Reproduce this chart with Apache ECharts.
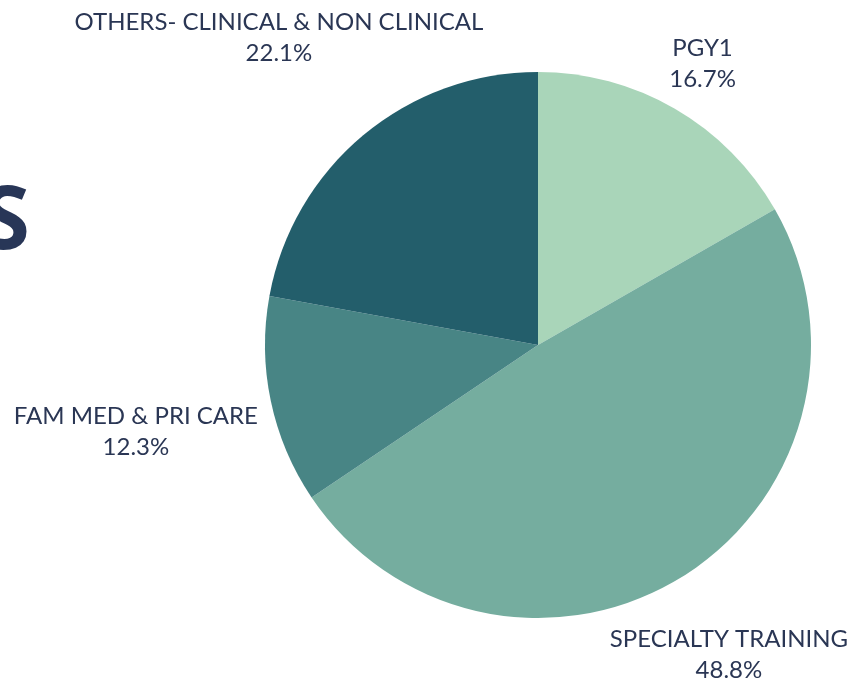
<!DOCTYPE html>
<html>
<head>
<meta charset="utf-8">
<script src="https://cdn.jsdelivr.net/npm/echarts@6/dist/echarts.min.js"></script>
<style>
html,body{margin:0;padding:0;background:#fff;}
#chart{width:864px;height:679px;}
</style>
</head>
<body>
<div id="chart"></div>
<script>
var categories = ['PGY1', 'SPECIALTY TRAINING', 'FAM MED & PRI CARE', 'OTHERS- CLINICAL & NON CLINICAL'];
var values = [16.7, 48.8, 12.3, 22.1];
var colors = ['#a9d5b9', '#75ad9f', '#488585', '#235e6b'];

var CX = 538, CY = 345, R = 273, GAP = 12;
var total = values.reduce(function (a, b) { return a + b; }, 0);
var midAngles = [];
(function () {
  var acc = 0;
  for (var i = 0; i < values.length; i++) {
    midAngles.push((acc + values[i] / 2) / total * Math.PI * 2);
    acc += values[i];
  }
})();

function placeLabel(params) {
  var i = params.dataIndex;
  var w = params.labelRect.width, h = params.labelRect.height;
  var th = midAngles[i];
  var dx = Math.sin(th), dy = -Math.cos(th);
  function dist(t) {
    var cx = CX + dx * t, cy = CY + dy * t;
    var nx = Math.max(cx - w / 2, Math.min(CX, cx + w / 2));
    var ny = Math.max(cy - h / 2, Math.min(CY, cy + h / 2));
    return Math.sqrt((nx - CX) * (nx - CX) + (ny - CY) * (ny - CY));
  }
  var lo = 0, hi = 1500;
  for (var k = 0; k < 60; k++) {
    var mid = (lo + hi) / 2;
    if (dist(mid) < R + GAP) lo = mid; else hi = mid;
  }
  return { x: CX + dx * hi, y: CY + dy * hi + 3, align: 'center', verticalAlign: 'middle' };
}

var chart = echarts.init(document.getElementById('chart'), null, { renderer: 'canvas' });
chart.setOption({
  backgroundColor: '#ffffff',
  animation: false,
  graphic: [{
    type: 'text',
    style: {
      x: 30,
      y: 224,
      text: 'S',
      align: 'right',
      verticalAlign: 'middle',
      fontFamily: '"Noto Sans", sans-serif',
      fontWeight: 'bold',
      fontSize: 88,
      fill: '#283657'
    }
  }],
  series: [{
    type: 'pie',
    center: [CX, CY],
    radius: R,
    startAngle: 90,
    clockwise: true,
    avoidLabelOverlap: false,
    data: categories.map(function (c, i) {
      return { name: c, value: values[i], itemStyle: { color: colors[i] } };
    }),
    label: {
      show: true,
      position: 'outside',
      formatter: function (p) { return p.name + '\n' + p.value.toFixed(1) + '%'; },
      color: '#2a3654',
      fontFamily: 'Lato, sans-serif',
      fontSize: 24,
      lineHeight: 31,
      align: 'center'
    },
    labelLine: { show: false },
    labelLayout: placeLabel,
    emphasis: { disabled: true }
  }]
});
</script>
</body>
</html>
